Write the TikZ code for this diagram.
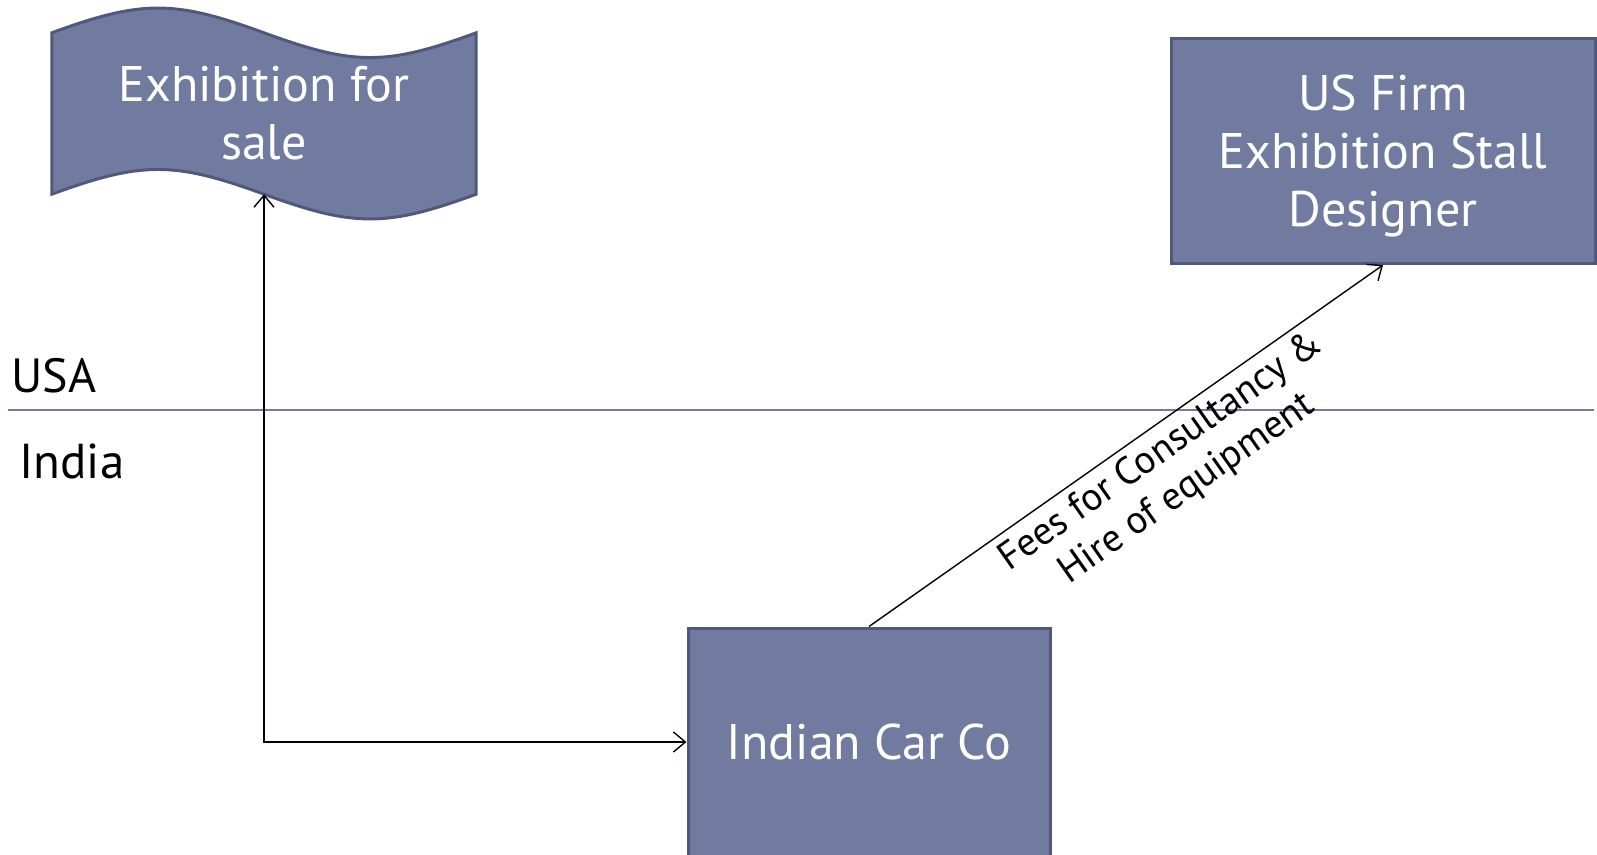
\documentclass[tikz,border=0pt]{standalone}
\usepackage{fontspec}
\setmainfont{PT Sans}
\usepackage{tikz}
\usetikzlibrary{arrows.meta}

\definecolor{slate}{RGB}{113,123,160}
\definecolor{slateline}{RGB}{80,89,125}

\begin{document}
\begin{tikzpicture}[x=1pt, y=-1pt, >={Straight Barb[length=12pt,width=20pt]},
		shade/.style={draw=slateline, line width=3pt, fill=slate},
		box/.style={shade, text=white, align=center, inner sep=0pt, font=\fontsize{50}{58}\selectfont},
		link/.style={line width=1.4pt}]
	\useasboundingbox (0,0) rectangle (1597,854);

	% wavy banner, drawn round an empty node
	\node[minimum width=424pt, minimum height=161pt, inner sep=0pt] (sale) at (264,113.5) {};
	\draw[shade] (sale.north west) .. controls +(90,-33) and +(-90,-33) .. (sale.north)
		.. controls +(90,33) and +(-90,33) .. (sale.north east) -- (sale.south east)
		.. controls +(-90,33) and +(90,33) .. (sale.south)
		.. controls +(-90,-33) and +(90,-33) .. (sale.south west) -- cycle;
	\node[box, draw=none, fill=none] (saletext) at (sale) {Exhibition for\\sale};

	\node[box, minimum width=424pt, minimum height=225pt, text depth=0pt] (firm) at (1383,151) {US Firm\\Exhibition Stall\\Designer};
	\node[box, minimum width=362pt, minimum height=228pt] (car) at (869,742) {Indian Car Co};

	% border line
	\draw[slate, line width=1.5pt] (8,410) -- (1594,410);
	\node[anchor=base west, font=\fontsize{48}{58}\selectfont] (usa) at (8,392) {USA};
	\node[anchor=base west, font=\fontsize{49}{58}\selectfont] (india) at (16,478) {India};

	\draw[link, <->] (sale.south) |- (car.west);
	\draw[link, ->] (car.north) -- node[sloped, below, pos=0.54, align=center, inner sep=7pt,
		font=\fontsize{39}{45}\selectfont] {Fees for Consultancy \&\\Hire of equipment} (firm.south);
\end{tikzpicture}
\end{document}
